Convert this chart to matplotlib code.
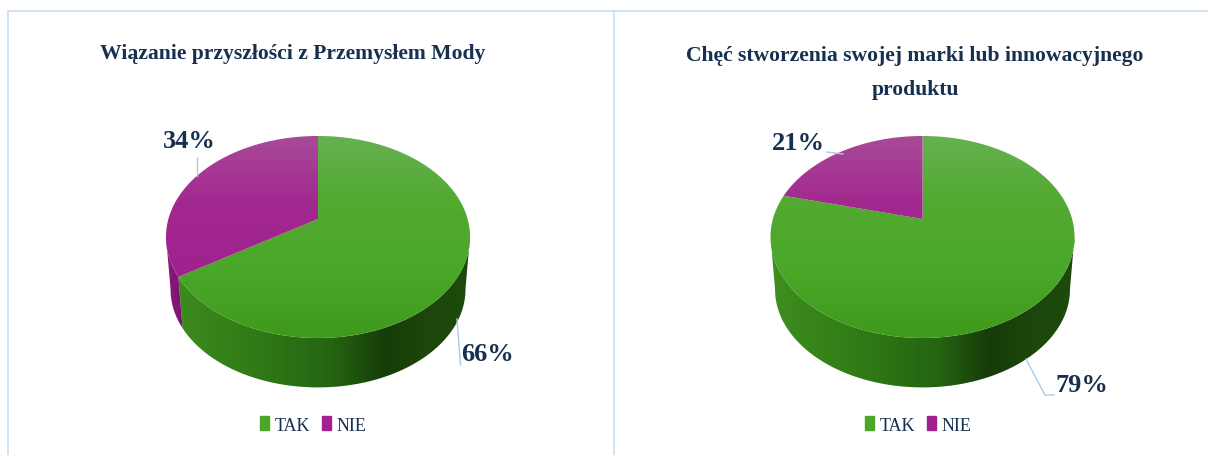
import numpy as np
import matplotlib
matplotlib.use('Agg')
import matplotlib.pyplot as plt
from matplotlib.colors import LinearSegmentedColormap
from matplotlib.patches import Patch, Polygon

# Data
categories = ['TAK', 'NIE']
values_left = [66, 34]
values_right = [79, 21]
title_left = 'Wiązanie przyszłości z Przemysłem Mody'
title_right = 'Chęć stworzenia swojej marki lub innowacyjnego\nproduktu'

GREEN = '#4aa72a'
PURPLE = '#a0228f'
TEXT = '#17304f'
LINE = '#a9cbe8'
FRAME = '#c9def3'

plt.rcParams['font.family'] = ['Liberation Serif', 'DejaVu Serif']

top_green = LinearSegmentedColormap.from_list('tg', ['#66b052', '#52aa30', '#4aa728', '#3f9a1c'])
top_purple = LinearSegmentedColormap.from_list('tp', ['#a84a98', '#a2288f', '#a0228f', '#961c84'])
side_green = LinearSegmentedColormap.from_list(
    'sg', [(0, '#3f8e1e'), (0.3, '#2f7a16'), (0.55, '#256412'), (0.72, '#163c08'), (0.85, '#1c460b'), (1, '#1e4a0c')])
side_purple = LinearSegmentedColormap.from_list('sp', ['#8a1a7c', '#74126a'])

# The top of the pie is a tilted disc, so the centre sits above the middle of the ellipse
PERSPECTIVE = 0.178
HALF_WIDTH = 149.6
HALF_HEIGHT = 97.8
APEX_Y = 220
DEPTH = 53
BOTTOM_SCALE = 0.97
FRONT_START = 100
FRONT_END = 260


def rim(cx, theta, y0=APEX_Y, scale=1.0):
    # theta in degrees, clockwise from 12 o'clock
    t = np.radians(theta)
    u, v = np.sin(t), np.cos(t)
    w = 1 + PERSPECTIVE * v
    return cx + scale * HALF_WIDTH * u / w, y0 - scale * HALF_HEIGHT * v / w


def fill_gradient(ax, verts, cmap, extent, vertical):
    grad = np.linspace(0, 1, 256)
    grad = grad.reshape(-1, 1) if vertical else grad.reshape(1, -1)
    im = ax.imshow(grad, cmap=cmap, extent=extent, aspect='auto', interpolation='bilinear', origin='upper')
    clip = Polygon(verts, closed=True, transform=ax.transData, fc='none', ec='none')
    ax.add_patch(clip)
    im.set_clip_path(clip)


def draw_pie(ax, cx, values):
    edges = np.concatenate([[0], np.cumsum(values) / np.sum(values) * 360])
    tops = [top_green, top_purple]
    sides = [side_green, side_purple]
    for i in range(len(values)):
        t1, t2 = edges[i], edges[i + 1]
        # wall of the slice, only the part facing the viewer
        f1, f2 = max(t1, FRONT_START), min(t2, FRONT_END)
        if f2 > f1:
            th = np.linspace(f1, f2, 200)
            xt, yt = rim(cx, th)
            xb, yb = rim(cx, th, APEX_Y + DEPTH, BOTTOM_SCALE)
            verts = np.vstack([np.column_stack([xt, yt]), np.column_stack([xb, yb])[::-1]])
            if i == 0:
                ext = (cx - 152, cx + 152, 400, 130)
            else:
                ext = (cx - 152, cx - 130, 400, 130)
            fill_gradient(ax, verts, sides[i], ext, False)
        # top of the slice
        th = np.linspace(t1, t2, 300)
        xt, yt = rim(cx, th)
        verts = np.vstack([[cx, APEX_Y], np.column_stack([xt, yt])])
        fill_gradient(ax, verts, tops[i], (cx - 155, cx + 155, 339, 137), True)


def draw_legend(fig, x):
    handles = [Patch(color=GREEN), Patch(color=PURPLE)]
    fig.legend(handles, categories, loc='center', bbox_to_anchor=(x / 1208, 1 - 426 / 456), ncol=2,
               frameon=False, fontsize=13, labelcolor=TEXT, handlelength=0.52, handleheight=0.8,
               handletextpad=0.3, columnspacing=0.65, borderpad=0)


fig = plt.figure(figsize=(12.08, 4.56), dpi=100)
ax = fig.add_axes([0, 0, 1, 1])

draw_pie(ax, 318, values_left)
draw_pie(ax, 922.5, values_right)

ax.set_xlim(0, 1208)
ax.set_ylim(456, 0)
ax.axis('off')

# panel borders
ax.plot([8, 8, 1208], [456, 12, 12], color=FRAME, lw=1.2)
ax.plot([613.5, 613.5], [12, 456], color=FRAME, lw=1.2)

# leader lines
ax.plot([197, 197], [159, 177], color=LINE, lw=1)
ax.plot([457, 460.5], [320, 366], color=LINE, lw=1)
ax.plot([827, 843], [153, 155], color=LINE, lw=1)
ax.plot([1026, 1045, 1054], [360, 396, 396], color=LINE, lw=1)

# titles
ax.text(293, 54, title_left, ha='center', va='center', fontsize=15.6, fontweight='bold', color=TEXT)
ax.text(915, 73, title_right, ha='center', va='center', fontsize=15.6, fontweight='bold', color=TEXT,
        linespacing=1.9)

# percent labels
ax.text(189, 142, f'{values_left[1]}%', ha='center', va='center', fontsize=19, fontweight='bold', color=TEXT)
ax.text(487, 355, f'{values_left[0]}%', ha='center', va='center', fontsize=19, fontweight='bold', color=TEXT)
ax.text(798, 144, f'{values_right[1]}%', ha='center', va='center', fontsize=19, fontweight='bold', color=TEXT)
ax.text(1082, 386, f'{values_right[0]}%', ha='center', va='center', fontsize=19, fontweight='bold', color=TEXT)

draw_legend(fig, 313)
draw_legend(fig, 918)

fig.savefig('out.png', dpi=100)
